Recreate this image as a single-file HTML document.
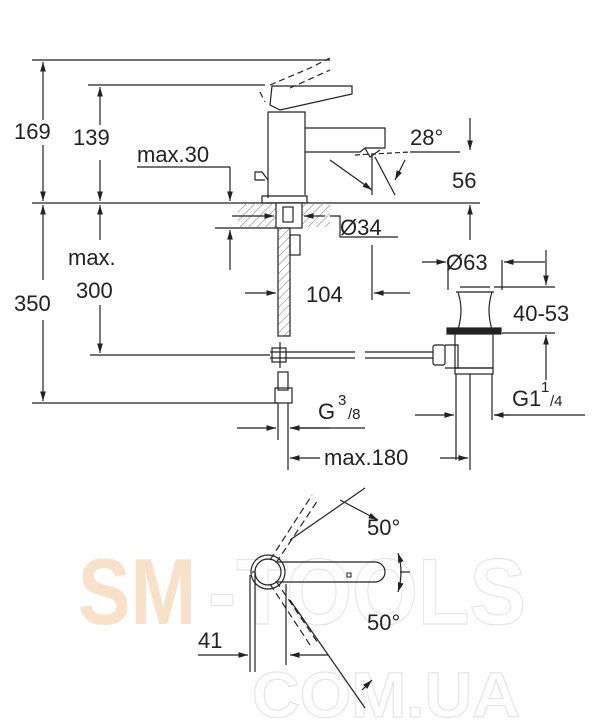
<!DOCTYPE html>
<html><head><meta charset="utf-8"><style>
html,body{margin:0;padding:0;background:#fff}
svg{display:block}
text{font-family:"Liberation Sans",sans-serif;fill:#222}
</style></head><body>
<svg width="600" height="722" viewBox="0 0 600 722" xmlns="http://www.w3.org/2000/svg">
<defs>
<marker id="a" viewBox="0 0 10 10" refX="10" refY="5" markerWidth="8" markerHeight="8" orient="auto-start-reverse"><path d="M0,2 L10,5 L0,8 z" fill="#222"/></marker>
<pattern id="h" width="6" height="6" patternUnits="userSpaceOnUse" patternTransform="rotate(45)"><line x1="0" y1="0" x2="0" y2="6" stroke="#888" stroke-width="1.2"/></pattern>
</defs>
<!-- watermark -->
<text x="78" y="624" font-size="94" font-weight="bold" textLength="118" lengthAdjust="spacingAndGlyphs" style="fill:#f8e1c8">SM</text>
<text x="208" y="624" font-size="94" font-weight="bold" textLength="318" lengthAdjust="spacingAndGlyphs" stroke="#e6e6e6" stroke-width="1.2" style="fill:none">-TOOLS</text>
<text x="252" y="717" font-size="64" font-weight="bold" textLength="268" lengthAdjust="spacingAndGlyphs" stroke="#e6e6e6" stroke-width="1.2" style="fill:none">COM.UA</text>

<g stroke="#222" stroke-width="1.2" fill="none">
<line x1="32" y1="60" x2="330" y2="60"/>
<line x1="88" y1="85" x2="265" y2="85"/>
<line x1="32" y1="203" x2="480" y2="203"/>
<line x1="90" y1="355" x2="270" y2="355"/>
<line x1="32" y1="403" x2="278" y2="403"/>
<line x1="43" y1="62" x2="43" y2="120" marker-start="url(#a)"/>
<line x1="43" y1="145" x2="43" y2="201" marker-end="url(#a)"/>
<line x1="43" y1="205" x2="43" y2="280" marker-start="url(#a)"/>
<line x1="43" y1="320" x2="43" y2="401" marker-end="url(#a)"/>
<line x1="100" y1="87" x2="100" y2="125"  marker-start="url(#a)"/>
<line x1="100" y1="160" x2="100" y2="201" marker-end="url(#a)"/>
<line x1="100" y1="205" x2="100" y2="240" marker-start="url(#a)"/>
<line x1="100" y1="305" x2="100" y2="353" marker-end="url(#a)"/>
<line x1="137" y1="167" x2="230" y2="167"/>
<line x1="230" y1="167" x2="230" y2="201" marker-end="url(#a)"/>
<line x1="230" y1="270" x2="230" y2="230" marker-end="url(#a)"/>
<line x1="215" y1="228" x2="278" y2="228"/>
<path d="M268,198 V112 H305 V195"/>
<path d="M262,196 H307 V203 H262 Z"/>
<path d="M272,86 H352 V94 L280,110 L270,105 Z"/>
<path d="M305,128 H385 V148 H365 L360,152 H305"/>
<path d="M365,148 L370,157 L380,150"/>
<path d="M255,180 H265 M255,180 V172 H262 L268,180"/>
<path d="M270,85 L310,68 L330,58 M290,88 L330,70 M260,92 L265,102" stroke-dasharray="6,4"/>
<line x1="330" y1="160" x2="372" y2="190" marker-end="url(#a)"/>
<line x1="372" y1="155" x2="372" y2="195"/>
<line x1="375" y1="157" x2="395" y2="195"/>
<path d="M355,155 L410,152" stroke-dasharray="5,3"/>
<line x1="405" y1="160" x2="395" y2="180" marker-end="url(#a)"/>
<line x1="410" y1="152" x2="460" y2="152"/>
<line x1="470" y1="118" x2="470" y2="150" marker-end="url(#a)"/>
<line x1="470" y1="240" x2="470" y2="205" marker-end="url(#a)"/>
<rect x="238" y="203" width="92" height="24" fill="url(#h)" stroke="none"/>
<rect x="276" y="203" width="26" height="25" fill="#fff"/>
<rect x="283" y="207" width="10" height="15"/>
<line x1="232" y1="216" x2="274" y2="216" marker-end="url(#a)"/>
<line x1="325" y1="216" x2="304" y2="216" marker-end="url(#a)"/>
<path d="M330,216 H340 V237 H398"/>
<rect x="278" y="228" width="12" height="108" fill="url(#h)"/>
<rect x="290" y="235" width="10" height="20"/>
<line x1="245" y1="293" x2="276" y2="293" marker-end="url(#a)"/>
<line x1="372" y1="245" x2="372" y2="300"/>
<line x1="410" y1="293" x2="374" y2="293" marker-end="url(#a)"/>
<line x1="270" y1="352" x2="355" y2="352"/><line x1="270" y1="358" x2="355" y2="358"/>
<line x1="365" y1="352" x2="433" y2="352"/><line x1="365" y1="358" x2="433" y2="358"/>
<rect x="272" y="348" width="14" height="14"/>
<line x1="280" y1="342" x2="280" y2="368"/>
<rect x="278" y="372" width="10" height="18"/>
<rect x="275" y="388" width="17" height="15"/>
<line x1="278" y1="403" x2="278" y2="440"/><line x1="288" y1="403" x2="288" y2="470"/>
<line x1="237" y1="428" x2="276" y2="428" marker-end="url(#a)"/>
<line x1="330" y1="428" x2="290" y2="428" marker-end="url(#a)"/>
<line x1="290" y1="428" x2="365" y2="428"/>
<rect x="433" y="345" width="12" height="20" rx="2"/>
<path d="M445,345 H458 V368 H445"/>
<path d="M460,287 H490 M456,292 H494 M458,292 C462,305 462,315 458,330 M492,292 C488,305 488,315 492,330"/>
<rect x="447" y="328" width="54" height="6" fill="#222"/>
<path d="M455,334 V368 H493 V334"/>
<rect x="455" y="368" width="38" height="6"/>
<line x1="456" y1="374" x2="456" y2="460"/><line x1="492" y1="374" x2="492" y2="420"/><line x1="470" y1="374" x2="470" y2="470"/>
<line x1="448" y1="260" x2="448" y2="290"/><line x1="502" y1="260" x2="502" y2="290"/>
<line x1="422" y1="262" x2="446" y2="262" marker-end="url(#a)"/>
<line x1="545" y1="262" x2="504" y2="262" marker-end="url(#a)"/>
<line x1="494" y1="287" x2="555" y2="287"/><line x1="502" y1="333" x2="555" y2="333"/>
<line x1="546" y1="250" x2="546" y2="285" marker-end="url(#a)"/>
<line x1="546" y1="380" x2="546" y2="335" marker-end="url(#a)"/>
<line x1="415" y1="415" x2="454" y2="415" marker-end="url(#a)"/>
<line x1="510" y1="415" x2="494" y2="415" marker-end="url(#a)"/>
<line x1="494" y1="415" x2="585" y2="415"/>
<line x1="320" y1="458" x2="290" y2="458" marker-end="url(#a)"/>
<line x1="440" y1="458" x2="468" y2="458" marker-end="url(#a)"/>
<circle cx="268" cy="572" r="17"/>
<circle cx="268" cy="572" r="13"/>
<path d="M278,562 H375 A10,10 0 0 1 375,582 H278"/>
<path d="M252,572 H255 V672 M250,575 V672 M286,584 V665"/>
<line x1="270" y1="560" x2="312" y2="495" stroke-dasharray="7,4"/>
<line x1="276" y1="563" x2="318" y2="500" stroke-dasharray="7,4"/>
<line x1="270" y1="584" x2="312" y2="648" stroke-dasharray="7,4"/>
<line x1="276" y1="581" x2="318" y2="643" stroke-dasharray="7,4"/>
<line x1="290" y1="540" x2="365" y2="488"/>
<line x1="290" y1="600" x2="365" y2="708"/>
<line x1="340" y1="500" x2="378" y2="520" marker-end="url(#a)"/>
<path d="M398,553 Q404,572 398,592" marker-start="url(#a)" marker-end="url(#a)"/>
<line x1="400" y1="572" x2="410" y2="572"/>
<line x1="372" y1="680" x2="362" y2="690" marker-start="url(#a)"/>
<line x1="198" y1="655" x2="248" y2="655" marker-end="url(#a)"/>
<line x1="328" y1="655" x2="290" y2="655" marker-end="url(#a)"/>
</g>
<rect x="347" y="573" width="4" height="4" fill="none" stroke="#222"/>

<g font-size="22">
<text x="14" y="139">169</text>
<text x="73" y="145">139</text>
<text x="137" y="162">max.30</text>
<text x="410" y="145">28°</text>
<text x="452" y="188">56</text>
<text x="340" y="235">Ø34</text>
<text x="446" y="270">Ø63</text>
<text x="68" y="265">max.</text>
<text x="76" y="298">300</text>
<text x="14" y="311">350</text>
<text x="306" y="302">104</text>
<text x="513" y="321">40-53</text>
<text x="318" y="419">G</text><text x="338" y="405" font-size="15">3</text><text x="348" y="419" font-size="15">/8</text>
<text x="512" y="406">G1</text><text x="541" y="392" font-size="15">1</text><text x="550" y="406" font-size="15">/4</text>
<text x="324" y="465">max.180</text>
<text x="367" y="535">50°</text>
<text x="367" y="630">50°</text>
<text x="198" y="648">41</text>
</g>
</svg>
</body></html>
